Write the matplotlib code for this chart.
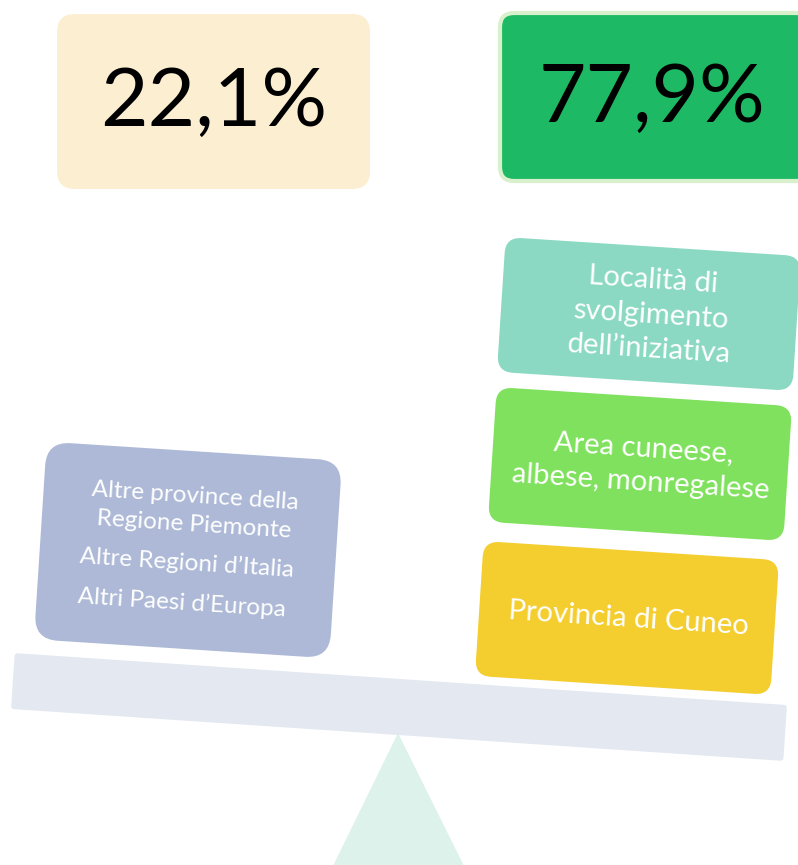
import matplotlib.pyplot as plt
from matplotlib.patches import FancyBboxPatch, Polygon
from matplotlib.transforms import Affine2D
import numpy as np

plt.rcParams['font.family'] = ['Lato', 'DejaVu Sans']

# shares shown at the top
share_labels = ["22,1%", "77,9%"]
share_colors = ["#FCEED1", "#1DB965"]

# right pan: stacked origin boxes (top to bottom)
right_labels = ["Località di\nsvolgimento\ndell\u2019iniziativa",
                "Area cuneese,\nalbese, monregalese",
                "Provincia di Cuneo"]
right_colors = ["#8BD9C3", "#7FE15E", "#F4CD2E"]

# left pan: one box, several lines
left_lines = ["Altre province della", "Regione Piemonte",
              "Altre Regioni d\u2019Italia", "Altri Paesi d\u2019Europa"]
left_color = "#ADB9D6"

W, H = 798, 865
fig = plt.figure(figsize=(W / 100, H / 100), dpi=100)
ax = fig.add_axes([0, 0, 1, 1])
ax.set_xlim(0, W)
ax.set_ylim(H, 0)
ax.set_aspect("equal")
ax.axis("off")

tilt = 3.7


def tilted_box(cx, cy, w, h, color, angle=tilt, rad=16, z=2):
    p = FancyBboxPatch((-w / 2, -h / 2), w, h,
                       boxstyle=f"round,pad=0,rounding_size={rad}",
                       fc=color, ec="none", zorder=z)
    p.set_transform(Affine2D().rotate_deg(angle).translate(cx, cy) + ax.transData)
    ax.add_patch(p)


def local(cx, cy, u, v, angle=tilt):
    a = np.deg2rad(angle)
    return cx + u * np.cos(a) - v * np.sin(a), cy + u * np.sin(a) + v * np.cos(a)


# percentage boxes
ax.add_patch(FancyBboxPatch((57, 14), 313, 175, boxstyle="round,pad=0,rounding_size=18",
                            fc=share_colors[0], ec="none"))
ax.add_patch(FancyBboxPatch((500, 13), 310, 168, boxstyle="round,pad=0,rounding_size=14",
                            fc=share_colors[1], ec="#D8F1CC", lw=3))
ax.text(214, 103, share_labels[0], fontsize=59, ha="center", va="center", color="black")
ax.text(652, 99, share_labels[1], fontsize=59, ha="center", va="center", color="black")

# fulcrum
ax.add_patch(Polygon([(398, 733), (331, 870), (466, 870)], closed=True,
                     fc="#DDF2EA", ec="none", zorder=1))

# beam
tilted_box(399, 707, 774, 56, "#E3E8F1", angle=3.85, rad=3, z=2)

# right stack
right_centers = [(649, 314), (640, 464), (627, 618)]
for (cx, cy), lab, col in zip(right_centers, right_labels, right_colors):
    tilted_box(cx, cy, 296, 135, col, z=3)
    ax.text(cx + 2, cy + 1, lab, fontsize=21, color="white", ha="center", va="center",
            rotation=-tilt, rotation_mode="anchor", linespacing=1.4, zorder=4)

# left box
lcx, lcy = 188, 550
tilted_box(lcx, lcy, 296, 198, left_color, rad=24, z=3)
offsets = [(4, -54), (4, -26), (0, 13), (-3, 53)]
for (u, v), line in zip(offsets, left_lines):
    x, y = local(lcx, lcy, u, v)
    ax.text(x, y, line, fontsize=17.5, color="white", ha="center", va="center",
            rotation=-tilt, rotation_mode="anchor", zorder=4)

fig.savefig("out.png", dpi=100)
